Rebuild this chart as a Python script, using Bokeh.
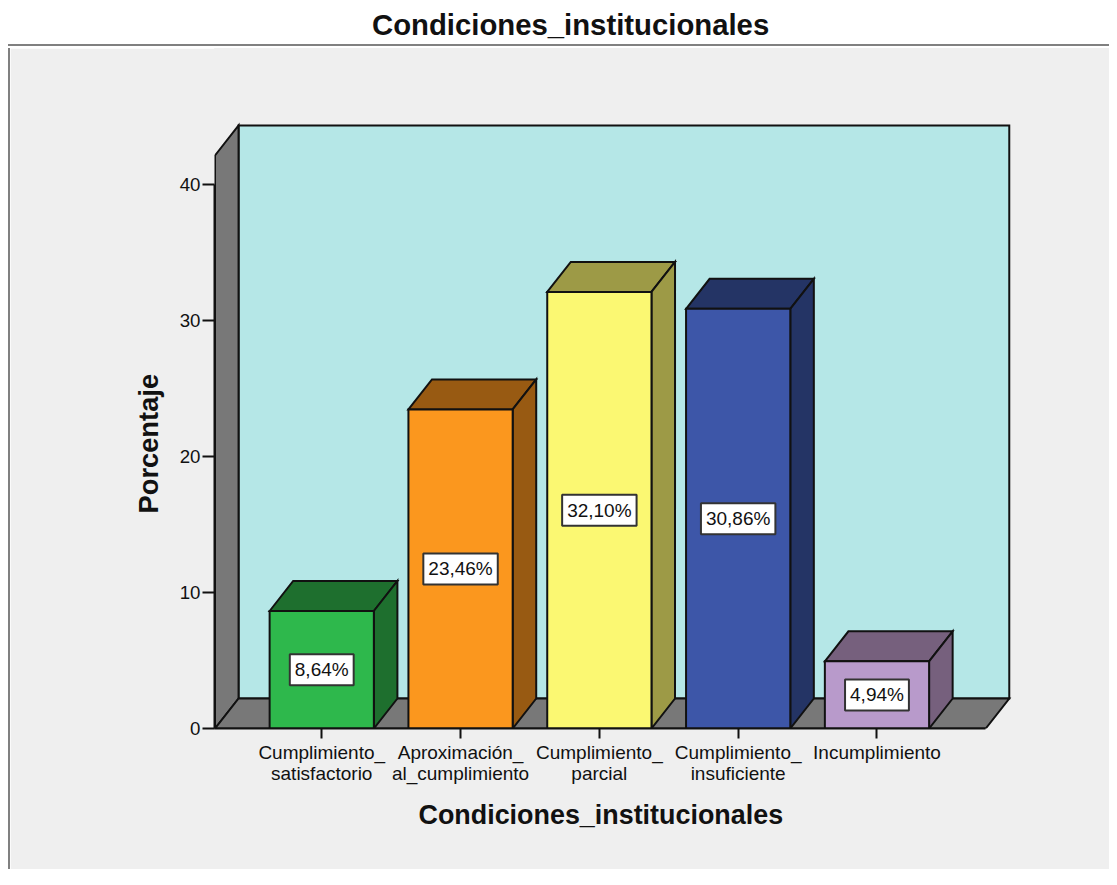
from bokeh.plotting import figure
from bokeh.layouts import column
from bokeh.models import (Div, FixedTicker, Label, Range1d, Title)
from bokeh.embed import file_html
from bokeh.resources import INLINE

TITLE = "Condiciones_institucionales"
X_TITLE = "Condiciones_institucionales"
Y_TITLE = "Porcentaje"
categories = ["Cumplimiento_\nsatisfactorio", "Aproximación_\nal_cumplimiento",
              "Cumplimiento_\nparcial", "Cumplimiento_\ninsuficiente", "Incumplimiento"]
values = [8.64, 23.46, 32.10, 30.86, 4.94]
y_ticks = [0, 10, 20, 30, 40]
front_colors = ["#2EB84C", "#FB971E", "#FBF872", "#3D56A8", "#B89ACB"]
shade_colors = ["#1E6F2E", "#985A12", "#9D9A46", "#243465", "#76607D"]

FONT = "Liberation Sans"
WALL = "#787878"
BACK = "#B5E7E7"
PANEL = "#EFEFEF"

W, H = 1109, 869
HEAD = 48
INSET = 10                                     # white strip + panel border on the left
F_L, F_R, F_T, F_B = 214, W, HEAD, 728
PX_X = 138.5
PX_Y = 13.6
X0_PX = 321


def dx(px):
    return (px - X0_PX) / PX_X


def dy(px):
    return (F_B - px) / PX_Y


DEPTH_X = 23.5 / PX_X
DEPTH_Y = 30 / PX_Y
BAR_W = 104 / PX_X
WALL_L, WALL_R, WALL_TOP = dx(214.5), dx(983.5), dy(155)

head = Div(width=W, height=HEAD, margin=(0, 0, 0, 0),
           text=f'<div style="position:absolute;left:8px;top:0;width:{W - 8}px;height:{HEAD - 2}px;'
                f'border-bottom:2px solid #808080;background:white;"></div>'
                f'<span style="position:absolute;left:372px;top:9px;line-height:32px;'
                f'font-family:\'{FONT}\';font-weight:bold;font-size:29.3px;color:#111;white-space:nowrap;">'
                f'{TITLE}</span>')

p = figure(width=W - INSET, height=H - HEAD, output_backend="svg", toolbar_location=None,
           x_range=Range1d(dx(F_L), dx(F_R)), y_range=Range1d(0, dy(F_T)),
           min_border_left=F_L - INSET, min_border_right=0,
           min_border_top=0, min_border_bottom=H - F_B,
           frame_width=F_R - F_L, frame_height=F_B - F_T, margin=(0, 0, 0, 8))
p.border_fill_color = PANEL
p.background_fill_color = PANEL
p.outline_line_color = PANEL
p.grid.visible = False
p.styles = {"border-left": "2px solid #808080"}

line = dict(line_color="#111111", line_width=2, line_join="miter")
# back wall, side wall, floor
p.quad(left=WALL_L + DEPTH_X, right=WALL_R + DEPTH_X, bottom=DEPTH_Y, top=WALL_TOP + DEPTH_Y,
       fill_color=BACK, **line)
p.patch([WALL_L, WALL_L + DEPTH_X, WALL_L + DEPTH_X, WALL_L],
        [0, DEPTH_Y, WALL_TOP + DEPTH_Y, WALL_TOP], fill_color=WALL, **line)
p.patch([WALL_L, WALL_L + DEPTH_X, WALL_R + DEPTH_X, WALL_R],
        [0, DEPTH_Y, DEPTH_Y, 0], fill_color=WALL, **line)

# 3-D bars
for i, v in enumerate(values):
    l, r = i - BAR_W / 2, i + BAR_W / 2
    p.patch([l, l + DEPTH_X, r + DEPTH_X, r], [v, v + DEPTH_Y, v + DEPTH_Y, v],
            fill_color=shade_colors[i], **line)
    p.patch([r, r + DEPTH_X, r + DEPTH_X, r], [0, DEPTH_Y, v + DEPTH_Y, v],
            fill_color=shade_colors[i], **line)
    p.quad(left=l, right=r, bottom=0, top=v, fill_color=front_colors[i], **line)
    p.add_layout(Label(x=i, y=v / 2, text=f"{v:.2f}%".replace(".", ","),
                       text_align="center", text_baseline="middle", text_font=FONT,
                       text_font_size="19px", text_color="#111111",
                       background_fill_color="white", background_fill_alpha=1,
                       border_line_color="#333333", border_line_width=2,
                       padding=5))

yaxis = p.yaxis[0]
yaxis.ticker = FixedTicker(ticks=y_ticks)
yaxis.bounds = (0, 40)
yaxis.major_tick_out = 12
yaxis.major_tick_in = 0
yaxis.minor_tick_out = 0
yaxis.minor_tick_in = 0
yaxis.major_tick_line_color = "#111111"
yaxis.major_tick_line_width = 2
yaxis.axis_line_color = "#111111"
yaxis.axis_line_width = 2
yaxis.major_label_standoff = 2
yaxis.major_label_text_font = FONT
yaxis.major_label_text_font_size = "18.7px"
yaxis.major_label_text_color = "#111111"

xaxis = p.xaxis[0]
xaxis.ticker = FixedTicker(ticks=list(range(len(categories))))
xaxis.major_label_overrides = {i: c for i, c in enumerate(categories)}
xaxis.bounds = (dx(200), WALL_R)
xaxis.major_tick_out = 10
xaxis.major_tick_in = 0
xaxis.minor_tick_out = 0
xaxis.minor_tick_in = 0
xaxis.major_tick_line_color = "#111111"
xaxis.major_tick_line_width = 2
xaxis.axis_line_color = "#111111"
xaxis.axis_line_width = 2
xaxis.major_label_standoff = 3
xaxis.major_label_text_font = FONT
xaxis.major_label_text_font_size = "19px"
xaxis.major_label_text_color = "#111111"
xaxis.major_label_text_line_height = 1.0

p.add_layout(Title(text=X_TITLE, align="left", offset=418 - F_L, standoff=24,
                   text_font=FONT, text_font_size="26.9px", text_font_style="bold",
                   text_color="#111111", vertical_align="middle"), "below")
p.add_layout(Title(text=Y_TITLE, align="left", offset=F_B - 513, standoff=24,
                   text_font=FONT, text_font_size="27.3px", text_font_style="bold",
                   text_color="#111111", vertical_align="middle"), "left")

layout = column(head, p, spacing=0, margin=(0, 0, 0, 0))
open("out.html", "w").write(file_html(layout, INLINE))
